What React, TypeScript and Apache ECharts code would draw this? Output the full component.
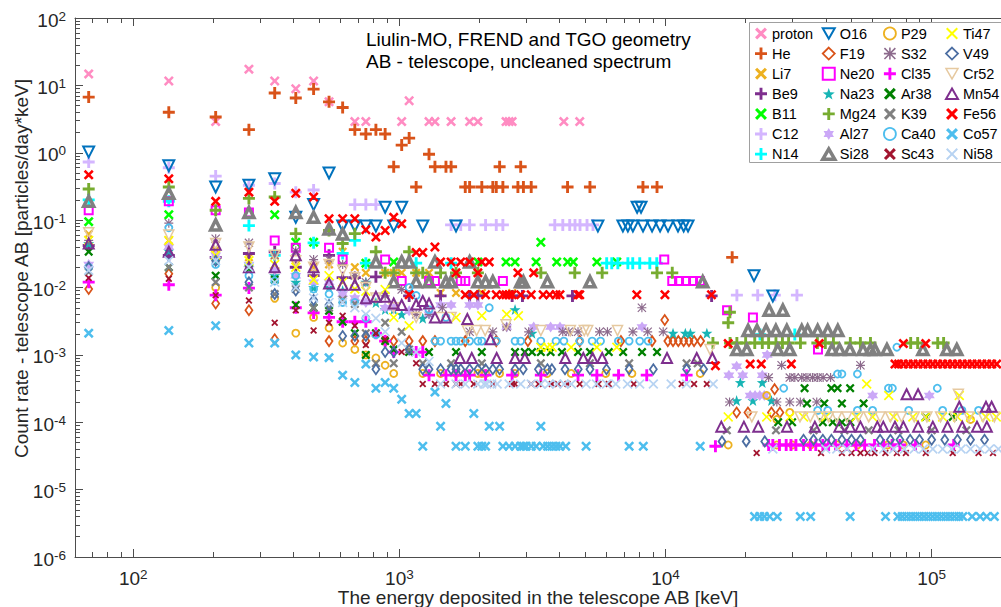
import React, { useEffect, useRef } from "react";
import * as echarts from "echarts";

// ---- species (legend order, column-major) ----
const speciesNames = [
  "proton", "He", "Li7", "Be9", "B11", "C12", "N14",
  "O16", "F19", "Ne20", "Na23", "Mg24", "Al27", "Si28",
  "P29", "S32", "Cl35", "Ar38", "K39", "Ca40", "Sc43",
  "Ti47", "V49", "Cr52", "Mn54", "Fe56", "Co57", "Ni58",
];

// ---- count rates: [deposited energy keV, rate particles/day/keV] ----
const proton = [[68,14.8],[136,11.6],[204,2.9],[272,17.4],[340,11.6],[408,8.9],[476,11.6],[544,5.7],[680,2.9],[748,2.9],[1020,2.9],[1088,5.9],[1292,2.9],[1360,2.9],[1564,2.9],[1836,2.9],[1972,2.9],[2516,2.9],[2584,2.9],[2652,2.9],[4148,2.9],[4760,2.9]];
const He = [[68,6.7],[136,4.0],[204,3.4],[272,2.2],[340,7.7],[408,6.5],[476,8.8],[544,5.7],[612,4.7],[680,2.2],[748,1.9],[816,2.2],[884,1.9],[952,0.62],[1020,1.3],[1088,1.65],[1156,0.31],[1292,0.95],[1360,0.62],[1496,0.62],[1564,0.62],[1768,0.31],[1836,0.31],[2040,0.31],[2244,0.31],[2312,0.31],[2380,0.62],[2448,0.31],[2788,0.31],[2856,0.62],[2924,0.31],[3128,0.31],[4284,0.31],[5200,0.31],[8225,0.31],[9290,0.31],[17800,0.028]];
const Li7 = [[68,0.062],[136,0.05],[204,0.036],[272,0.028],[340,0.03],[408,0.022],[476,0.02],[544,0.022],[612,0.034],[680,0.02],[748,0.0165],[884,0.0165],[952,0.0165],[1020,0.0165],[1156,0.0165],[1292,0.0165],[1428,0.0083],[1632,0.0083],[2040,0.0083],[2652,0.0083]];
const Be9 = [[68,0.042],[136,0.03],[204,0.028],[272,0.032],[340,0.034],[408,0.02],[476,0.015],[544,0.03],[612,0.014],[680,0.014],[816,0.0144],[1088,0.0075],[1428,0.0075],[1836,0.0075],[1972,0.0075],[2652,0.0075],[2900,0.0075],[4470,0.0075],[14900,0.0075]];
const B11 = [[68,0.095],[136,0.12],[340,0.12],[408,0.047],[476,0.047],[748,0.023],[952,0.024],[1972,0.024],[2516,0.024],[2720,0.024],[3264,0.024],[3400,0.047],[3900,0.024],[4290,0.024],[4500,0.024],[5520,0.024],[6560,0.024]];
const C12 = [[68,0.73],[136,0.6],[204,0.45],[272,0.33],[340,0.35],[408,0.26],[476,0.28],[680,0.17],[748,0.17],[816,0.17],[1564,0.085],[1700,0.085],[1836,0.085],[2108,0.085],[2312,0.085],[2448,0.085],[3836,0.085],[4111,0.085],[4365,0.085],[4569,0.085],[4771,0.085],[5070,0.085],[5340,0.085],[18540,0.0077],[22200,0.0077],[25750,0.0077],[31170,0.0077]];
const N14 = [[68,0.2],[136,0.19],[272,0.083],[340,0.03],[476,0.046],[612,0.032],[680,0.05],[748,0.023],[1156,0.023],[1564,0.023],[6010,0.023],[6280,0.023],[6620,0.023],[7220,0.023],[7530,0.023],[8000,0.023],[8730,0.023],[9270,0.023],[22650,0.002],[30600,0.002]];
const O16 = [[68,1.03],[136,0.64],[204,0.31],[272,0.33],[340,0.41],[408,0.11],[476,0.17],[544,0.5],[612,0.082],[680,0.082],[748,0.082],[816,0.082],[884,0.155],[952,0.082],[1020,0.155],[1224,0.082],[1632,0.082],[5570,0.082],[6915,0.082],[7220,0.082],[7540,0.082],[7820,0.155],[8090,0.155],[8230,0.082],[8900,0.082],[9540,0.082],[10220,0.082],[11140,0.082],[11700,0.082],[12150,0.082],[21500,0.015],[25300,0.0075]];
const F19 = [[68,0.0095],[136,0.016],[204,0.0058],[272,0.0046],[340,0.0017],[544,0.0016],[680,0.0016],[748,0.0016],[884,0.0016],[952,0.0016],[1088,0.0016],[1224,0.0016],[1360,0.0016],[1768,0.0016],[2312,0.0016],[3040,0.0016],[4760,0.0016],[6800,0.0016],[8900,0.0016],[9930,0.0033],[10200,0.0016],[10670,0.0016],[11170,0.0016],[11700,0.0016],[12240,0.0016],[12800,0.0016],[13550,0.0016],[18500,0.00014],[20400,0.00014],[25000,0.00014],[25700,0.00031],[26900,0.00014]];
const Ne20 = [[68,0.14],[136,0.19],[204,0.14],[272,0.13],[340,0.05],[408,0.039],[544,0.039],[612,0.026],[884,0.026],[1020,0.0125],[1292,0.0125],[1360,0.0125],[1700,0.0125],[1768,0.0125],[2448,0.0125],[9890,0.026],[10600,0.0125],[11240,0.0125],[11940,0.0125],[12690,0.0125],[13480,0.0125],[17030,0.0046],[21300,0.0036],[37400,0.0012]];
const Na23 = [[68,0.045],[136,0.035],[204,0.025],[272,0.02],[340,0.015],[408,0.012],[476,0.01],[544,0.01],[612,0.009],[748,0.012],[816,0.006],[884,0.0047],[952,0.0047],[1020,0.004],[1224,0.0035],[2720,0.0047],[3150,0.0021],[10670,0.0021],[11870,0.0021],[12400,0.0021],[14300,0.0021],[19100,0.00039],[23100,0.00039],[18500,0.00021],[21300,0.00021],[25000,0.00021]];
const Mg24 = [[68,0.29],[136,0.31],[204,0.14],[272,0.21],[340,0.22],[408,0.063],[544,0.07],[612,0.045],[680,0.063],[816,0.034],[884,0.0165],[952,0.0165],[1088,0.034],[1156,0.0165],[1224,0.0165],[1428,0.0165],[1632,0.0165],[1972,0.0165],[3400,0.0165],[4560,0.0165],[5780,0.0165],[9290,0.0165],[10600,0.0165],[17200,0.003],[17450,0.0043],[15070,0.0015],[17480,0.0015],[18540,0.0015],[20000,0.0015],[21640,0.0015],[23100,0.0015],[24400,0.0015],[25990,0.0015],[27500,0.0015],[29000,0.0015],[32130,0.0015],[37200,0.0015],[39850,0.0015],[42750,0.0015],[49470,0.0015],[53970,0.0015],[58900,0.0015],[83400,0.0015],[88600,0.0015],[105400,0.0015],[110900,0.0015]];
const Al27 = [[68,0.022],[136,0.04],[204,0.03],[272,0.022],[340,0.018],[408,0.015],[476,0.012],[544,0.012],[612,0.008],[680,0.007],[748,0.006],[884,0.005],[952,0.005],[1088,0.0045],[1292,0.004],[1428,0.0055],[1564,0.0055],[1836,0.0055],[1972,0.0055],[2530,0.0026],[3196,0.0026],[3700,0.0026],[4012,0.0026],[8160,0.0026],[18500,0.00068],[17300,0.0005],[19500,0.0005],[23100,0.0005],[24100,0.001],[20800,0.00025],[21700,0.00025],[22600,0.00025],[23500,0.00025],[60000,0.00025],[98000,0.00025]];
const Si28 = [[68,0.19],[136,0.25],[204,0.085],[272,0.13],[408,0.13],[476,0.11],[544,0.074],[612,0.062],[816,0.024],[952,0.0122],[1020,0.024],[1088,0.024],[1156,0.0122],[1292,0.0122],[1360,0.024],[1496,0.0122],[1564,0.0122],[1836,0.024],[1972,0.0122],[2108,0.0122],[2244,0.0122],[2856,0.0122],[2924,0.0122],[3600,0.0122],[5200,0.0122],[13800,0.0122],[24500,0.0046],[27600,0.0046],[20430,0.0023],[22070,0.0023],[23870,0.0023],[25980,0.0023],[28560,0.0023],[32500,0.0023],[34200,0.0023],[37300,0.0023],[40700,0.0023],[44400,0.0023],[18530,0.0012],[20200,0.0012],[26400,0.0012],[29300,0.0012],[42200,0.0012],[45100,0.0012],[49300,0.0012],[55200,0.0012],[58900,0.0012],[61200,0.0012],[67900,0.0012],[92700,0.0012],[114000,0.0012],[124300,0.0012]];
const P29 = [[204,0.01],[340,0.0069],[408,0.0021],[476,0.0036],[544,0.0025],[612,0.0015],[680,0.0012],[748,0.001],[816,0.0009],[884,0.0007],[952,0.00053],[1224,0.00053],[1428,0.00053],[1632,0.00053],[1768,0.00053],[1972,0.00053],[2040,0.00053],[2110,0.00053],[2380,0.00053],[2720,0.00053],[3590,0.00053],[4420,0.00053],[5960,0.00053],[7480,0.00053],[13500,0.00053],[24000,0.00025],[29300,0.00014],[26200,0.00011],[17200,0.000046],[26200,0.000046],[30000,0.000046],[35100,0.000046],[44300,0.000046],[52600,0.000046],[68300,0.000046],[78300,0.000046],[95000,0.000046],[140000,0.00011]];
const S32 = [[68,0.05],[136,0.09],[204,0.053],[272,0.046],[340,0.03],[408,0.035],[476,0.026],[544,0.026],[612,0.022],[680,0.015],[748,0.012],[884,0.0075],[1020,0.0093],[1156,0.004],[1292,0.004],[1450,0.005],[1836,0.0022],[2244,0.0022],[2530,0.0026],[3060,0.0022],[4110,0.0022],[4330,0.0022],[4690,0.0022],[5650,0.0022],[6050,0.0022],[7540,0.0022],[8150,0.005],[8570,0.0022],[9800,0.0022],[27300,0.0007],[54000,0.0007],[24400,0.00046],[29300,0.00046],[30600,0.00046],[32500,0.00046],[34000,0.00046],[35700,0.00046],[37300,0.00046],[39100,0.00046],[41700,0.00046],[17400,0.0002],[26200,0.0002],[29300,0.0002],[32100,0.0002],[37000,0.0002]];
const Cl35 = [[68,0.012],[136,0.011],[204,0.0077],[272,0.0098],[408,0.005],[476,0.0042],[544,0.0036],[612,0.0031],[680,0.0031],[748,0.0031],[816,0.0021],[884,0.0016],[952,0.0011],[1156,0.0011],[1224,0.0011],[1292,0.0005],[1496,0.0005],[1632,0.0005],[1768,0.0005],[1836,0.0005],[2108,0.0005],[2652,0.0005],[3400,0.0005],[4690,0.0005],[5520,0.0005],[6660,0.0005],[8500,0.0005],[12000,0.0005],[15400,0.000044],[24400,0.000046],[25300,0.000046],[26800,0.000046],[28400,0.000046],[29600,0.000046],[30900,0.000046],[33000,0.000046],[35000,0.000046],[36700,0.000046],[39000,0.000046],[41000,0.000046],[43500,0.000046],[48000,0.000046],[52000,0.000046],[56000,0.000046],[61000,0.000046],[66000,0.000046],[71000,0.000046],[76000,0.000046],[87000,0.000046],[121000,0.000046]];
const Ar38 = [[68,0.034],[136,0.02],[204,0.015],[272,0.019],[340,0.013],[408,0.0055],[476,0.005],[544,0.0045],[612,0.0031],[680,0.0021],[748,0.001],[816,0.0021],[884,0.0016],[952,0.0012],[1088,0.0011],[1292,0.0011],[1632,0.0011],[2040,0.0011],[2720,0.0011],[2960,0.0011],[3150,0.0011],[3400,0.0011],[3700,0.0011],[4080,0.0011],[4690,0.0011],[5200,0.0011],[6120,0.0011],[6930,0.0011],[8160,0.0011],[9290,0.0011],[33300,0.00032],[42000,0.00032],[44300,0.00032],[49400,0.00032],[34000,0.00019],[39500,0.00019],[46000,0.00019],[55500,0.00019],[26500,0.0001],[29900,0.0001],[39000,0.0001],[42500,0.0001],[46000,0.0001],[49500,0.0001],[95000,0.00012],[120000,0.00012]];
const K39 = [[68,0.017],[136,0.02],[204,0.012],[272,0.01],[340,0.008],[408,0.0095],[476,0.005],[544,0.005],[612,0.0066],[680,0.0057],[748,0.0021],[816,0.00075],[884,0.003],[952,0.00075],[1020,0.0022],[1088,0.0012],[1224,0.00075],[1564,0.00075],[2040,0.00075],[3400,0.00075],[5200,0.00075],[7300,0.00075],[12000,0.00075],[13200,0.00075],[17000,0.000076],[26000,0.000076],[36000,0.000076],[47000,0.000076],[58000,0.000076],[75000,0.000076],[100000,0.000076],[135000,0.000076]];
const Ca40 = [[68,0.02],[136,0.077],[204,0.022],[272,0.015],[340,0.0125],[408,0.015],[476,0.0095],[544,0.008],[612,0.006],[680,0.006],[748,0.0035],[816,0.002],[1088,0.01],[1156,0.0076],[1292,0.0047],[1360,0.0016],[1428,0.0016],[1496,0.0036],[1564,0.0016],[1632,0.0016],[1700,0.0016],[1836,0.0016],[1972,0.0016],[2040,0.0016],[2176,0.005],[2312,0.0016],[2720,0.0016],[2856,0.0016],[3400,0.0016],[3876,0.0016],[4150,0.0016],[4760,0.0016],[5300,0.0016],[5700,0.0016],[6650,0.0016],[7300,0.0016],[8000,0.0016],[8600,0.0016],[44300,0.00052],[46000,0.00052],[52600,0.00052],[74000,0.0013],[27800,0.00032],[68800,0.00032],[71200,0.00032],[105000,0.00032],[37300,0.00015],[40700,0.00015],[52600,0.00015],[60000,0.00015],[82000,0.00015],[110000,0.00015],[130000,0.00015],[150000,0.00015]];
const Sc43 = [[68,0.0138],[136,0.0135],[204,0.0077],[272,0.0064],[340,0.003],[408,0.0046],[476,0.0023],[544,0.003],[612,0.0038],[680,0.0027],[748,0.0014],[816,0.0021],[884,0.0017],[1020,0.0011],[1156,0.00075],[1224,0.00037],[1360,0.00037],[1496,0.00037],[1632,0.00037],[1700,0.00037],[1904,0.00037],[2244,0.00037],[2652,0.00037],[2720,0.00037],[3128,0.00037],[3332,0.00037],[3740,0.00037],[3944,0.00037],[4284,0.00037],[4760,0.00037],[5600,0.00037],[6120,0.00037],[7600,0.00037],[11500,0.00037],[12800,0.00037],[14300,0.00037],[22000,0.000035],[38400,0.000035],[46000,0.000035],[50000,0.000035],[54000,0.000035],[57500,0.000035],[61000,0.000035],[67000,0.000035],[74000,0.000035],[80000,0.000035],[95000,0.000035],[120000,0.000035],[150000,0.000035],[170000,0.000035]];
const Ti47 = [[68,0.05],[136,0.05],[204,0.03],[272,0.025],[340,0.022],[408,0.02],[476,0.013],[544,0.015],[612,0.012],[680,0.0095],[748,0.0088],[884,0.0093],[952,0.0036],[1088,0.0027],[1632,0.0036],[2040,0.0038],[2530,0.004],[2800,0.0038],[3400,0.0013],[3600,0.0013],[3750,0.0013],[4420,0.0013],[5520,0.0013],[6560,0.0013],[17200,0.00012],[24000,0.00012],[29300,0.00012],[57000,0.00037],[69000,0.00025],[127000,0.00025],[33000,0.00012],[40000,0.00012],[52000,0.00012],[60000,0.00012],[72000,0.00012],[85000,0.00012],[95000,0.00012],[110000,0.00012],[125000,0.00012],[140000,0.00012],[160000,0.00012],[175000,0.00012]];
const V49 = [[68,0.02],[136,0.03],[204,0.025],[272,0.012],[340,0.008],[408,0.009],[476,0.0065],[544,0.0055],[612,0.0019],[680,0.0019],[748,0.0019],[816,0.00061],[884,0.0011],[952,0.0011],[1088,0.0012],[1224,0.00061],[1292,0.00061],[1428,0.00061],[1564,0.00061],[1632,0.00061],[1700,0.00061],[1836,0.00061],[1972,0.00061],[2108,0.00061],[2244,0.00061],[2380,0.00061],[2720,0.00061],[2920,0.00061],[3330,0.00061],[3600,0.00061],[3740,0.00061],[4190,0.00061],[4700,0.00061],[5200,0.00061],[6000,0.00061],[7300,0.00061],[9000,0.00061],[12000,0.00061],[13900,0.00061],[16300,0.000052],[20100,0.000052],[23600,0.000052],[33000,0.000055],[36000,0.000055],[39000,0.000055],[42000,0.000055],[46000,0.000055],[50000,0.000055],[54000,0.000055],[64000,0.000055],[70000,0.000055],[76000,0.000055],[83000,0.000055],[90000,0.000055],[100000,0.000055],[112000,0.000055],[125000,0.000055],[140000,0.000055],[158000,0.000055]];
const Cr52 = [[68,0.065],[136,0.06],[204,0.045],[272,0.04],[340,0.03],[408,0.025],[476,0.02],[544,0.022],[612,0.018],[680,0.014],[748,0.01],[816,0.007],[952,0.005],[1156,0.0036],[1428,0.0036],[1564,0.0036],[1800,0.0023],[1950,0.0023],[2100,0.0023],[2516,0.0028],[3400,0.0023],[4390,0.0023],[4950,0.0023],[5100,0.0023],[6600,0.0023],[14700,0.0012],[21100,0.00012],[126000,0.00026],[32000,0.00012],[35000,0.00012],[38000,0.00012],[41000,0.00012],[44000,0.00012],[48000,0.00012],[53000,0.00012],[58000,0.00012],[64000,0.00012],[70000,0.00012],[77000,0.00012],[86000,0.00012],[96000,0.00012],[108000,0.00012],[122000,0.00012],[138000,0.00012],[156000,0.00012],[172000,0.00012]];
const Mn54 = [[68,0.045],[136,0.034],[204,0.043],[272,0.02],[340,0.02],[408,0.03],[476,0.02],[544,0.0115],[612,0.011],[680,0.011],[748,0.0069],[816,0.0073],[884,0.0073],[952,0.0058],[1020,0.0055],[1156,0.0056],[1224,0.0063],[1292,0.0058],[1360,0.0036],[1496,0.0036],[1800,0.0034],[2200,0.0017],[1690,0.0009],[1870,0.0009],[2320,0.0009],[2720,0.0009],[2960,0.0009],[4200,0.0009],[4910,0.0009],[5320,0.0009],[5780,0.0009],[10130,0.0009],[13100,0.0009],[15000,0.0009],[16200,0.000086],[19700,0.000086],[22300,0.000086],[28600,0.000086],[36400,0.000086],[45000,0.000086],[49400,0.000086],[54000,0.000086],[62500,0.000086],[65800,0.000086],[72800,0.000086],[78300,0.000086],[88900,0.000086],[101000,0.000086],[114700,0.000086],[130300,0.000086],[148000,0.000086],[161200,0.000086],[80500,0.00026],[88900,0.00026],[127000,0.00017],[160000,0.00017],[168000,0.00017]];
const Fe56 = [[68,0.47],[136,0.41],[204,0.19],[272,0.26],[340,0.19],[408,0.25],[476,0.22],[544,0.105],[612,0.105],[680,0.105],[748,0.072],[816,0.056],[884,0.07],[952,0.11],[1020,0.088],[1088,0.0078],[1156,0.033],[1224,0.033],[1360,0.04],[1428,0.024],[1564,0.024],[1632,0.0165],[1700,0.024],[1768,0.0078],[1836,0.024],[1904,0.0078],[1972,0.0165],[2040,0.024],[2108,0.0078],[2176,0.024],[2312,0.0078],[2448,0.0078],[2516,0.0078],[2584,0.0078],[2652,0.0078],[2788,0.0165],[2856,0.0078],[3128,0.0078],[3196,0.0165],[3468,0.0078],[3672,0.0078],[3876,0.0078],[4012,0.0078],[4692,0.0078],[4760,0.0078],[7800,0.0078],[9950,0.0078],[14880,0.0078],[15400,0.00069],[17200,0.00147],[20800,0.00073],[22900,0.00073],[29700,0.00073],[37800,0.00147],[78300,0.00147],[95000,0.00147],[72800,0.00073],[75100,0.00073],[78300,0.00073],[81700,0.00073],[85200,0.00073],[88900,0.00073],[92800,0.00073],[96800,0.00073],[101000,0.00073],[105400,0.00073],[110000,0.00073],[114700,0.00073],[119700,0.00073],[124900,0.00073],[130300,0.00073],[136000,0.00073],[141900,0.00073],[148000,0.00073],[154500,0.00073],[161200,0.00073],[168200,0.00073],[175500,0.00073]];
const Co57 = [[68,0.0021],[136,0.0023],[204,0.0027],[272,0.0015],[340,0.0015],[408,0.001],[476,0.00093],[544,0.00091],[612,0.0005],[680,0.00039],[748,0.00073],[816,0.00032],[884,0.00039],[952,0.00032],[1020,0.00022],[1088,0.000135],[1156,0.000135],[1224,0.000044],[1360,0.00028],[1428,0.000087],[1496,0.00019],[1632,0.000044],[1768,0.000044],[1904,0.000135],[1972,0.000044],[2040,0.000044],[2108,0.000044],[2176,0.000087],[2380,0.000087],[2448,0.000044],[2584,0.000044],[2720,0.000044],[2856,0.000044],[2924,0.000044],[2992,0.000044],[3128,0.000044],[3264,0.000044],[3400,0.000087],[3468,0.000044],[3604,0.000044],[3740,0.000044],[3876,0.000044],[4012,0.000044],[4216,0.000044],[5030,0.000044],[7300,0.000044],[8250,0.000044],[13500,0.000044],[21600,0.000004],[22600,0.000004],[23500,0.000004],[24600,0.000004],[26300,0.000004],[32100,0.000004],[35100,0.000004],[49400,0.000004],[67100,0.000004],[74700,0.000004],[77500,0.000004],[80500,0.000004],[83600,0.000004],[86800,0.000004],[90100,0.000004],[93600,0.000004],[97200,0.000004],[100900,0.000004],[104800,0.000004],[108800,0.000004],[113000,0.000004],[117300,0.000004],[121800,0.000004],[126500,0.000004],[131000,0.000004],[141900,0.000004],[152000,0.000004],[161000,0.000004],[172000,0.000004]];
const Ni58 = [[68,0.018],[136,0.025],[204,0.025],[272,0.02],[340,0.012],[408,0.01],[476,0.007],[544,0.006],[612,0.006],[680,0.005],[748,0.004],[816,0.0035],[884,0.0022],[1020,0.0015],[1156,0.0011],[1292,0.0008],[1428,0.00037],[1632,0.00037],[1768,0.00037],[1970,0.00037],[2080,0.00037],[2130,0.00037],[2220,0.00037],[2330,0.00037],[2584,0.00037],[2856,0.00037],[3128,0.00037],[3400,0.00037],[3650,0.00037],[3900,0.00037],[4160,0.00037],[4430,0.00037],[5030,0.00037],[5500,0.00037],[6000,0.00037],[6500,0.00037],[7200,0.00037],[8000,0.00037],[9000,0.00037],[10500,0.00037],[12000,0.00037],[15100,0.00037],[25300,0.00004],[40000,0.00004],[44000,0.00004],[48000,0.00004],[60000,0.00004],[66000,0.00004],[72000,0.00004],[79000,0.00004],[86000,0.00004],[93000,0.00004],[101000,0.00004],[110000,0.00004],[119000,0.00004],[129000,0.00004],[140000,0.00004],[152000,0.00004],[165000,0.00004],[178000,0.00004]];

const seriesData: Record<string, number[][]> = {
  proton, He, Li7, Be9, B11, C12, N14, O16, F19, Ne20, Na23, Mg24, Al27, Si28,
  P29, S32, Cl35, Ar38, K39, Ca40, Sc43, Ti47, V49, Cr52, Mn54, Fe56, Co57, Ni58,
};

// ---- axis limits and tick labels ----
const X_MIN = 60.4;
const X_MAX = 182200;
const Y_MIN = 1e-6;
const Y_MAX = 100;
const xMajorTicks = [1e2, 1e3, 1e4, 1e5];
const yMajorTicks = [1e-6, 1e-5, 1e-4, 1e-3, 1e-2, 1e-1, 1, 1e1, 1e2];

const titleLines = ["Liulin-MO, FREND and TGO geometry", "AB - telescope, uncleaned spectrum"];
const xTitle = "The energy deposited in the telescope AB [keV]";
const yTitle = "Count rate - telescope AB [particles/day*keV]";

// ---- marker glyphs ----
const SYM_X = "path://M0,1.8L1.8,0L5,3.2L8.2,0L10,1.8L6.8,5L10,8.2L8.2,10L5,6.8L1.8,10L0,8.2L3.2,5Z";
const SYM_X_THIN = "path://M0,1.2L1.2,0L5,3.8L8.8,0L10,1.2L6.2,5L10,8.8L8.8,10L5,6.2L1.2,10L0,8.8L3.8,5Z";
const SYM_PLUS = "path://M3.8,0H6.2V3.8H10V6.2H6.2V10H3.8V6.2H0V3.8H3.8Z";
const SYM_ASTER = "path://M4.35,0H5.65V10H4.35Z M0,4.35H10V5.65H0Z M0.9,0L10,9.1L9.1,10L0,0.9Z M9.1,0L10,0.9L0.9,10L0,9.1Z";
const SYM_PENTA = "path://M5,0.3L6.18,3.68L9.76,3.76L6.9,5.92L7.94,9.35L5,7.3L2.06,9.35L3.1,5.92L0.24,3.76L3.82,3.68Z";
const SYM_HEXA = "path://M5,0L6.45,2.49L9.33,2.5L7.9,5L9.33,7.5L6.45,7.51L5,10L3.55,7.51L0.67,7.5L2.1,5L0.67,2.5L3.55,2.49Z";
const SYM_TRI_UP = "path://M5,0L10,8.66L0,8.66Z";
const SYM_TRI_DOWN = "path://M0,0L10,0L5,8.66Z";

type Marker = { color: string; symbol: string; size: number | number[]; open?: number };
const markers: Record<string, Marker> = {
  proton: { color: "#ff8cc2", symbol: SYM_X, size: 10 },
  He: { color: "#d95319", symbol: SYM_PLUS, size: 12 },
  Li7: { color: "#edb120", symbol: SYM_X, size: 9 },
  Be9: { color: "#7e2f8e", symbol: SYM_PLUS, size: 12 },
  B11: { color: "#00ff00", symbol: SYM_X, size: 10 },
  C12: { color: "#d4b6ff", symbol: SYM_PLUS, size: 12 },
  N14: { color: "#00ffff", symbol: SYM_PLUS, size: 12 },
  O16: { color: "#0072bd", symbol: SYM_TRI_DOWN, size: 11, open: 2 },
  F19: { color: "#d95319", symbol: "diamond", size: [7, 10], open: 1.8 },
  Ne20: { color: "#ff00ff", symbol: "rect", size: 8, open: 2 },
  Na23: { color: "#17b5b5", symbol: SYM_PENTA, size: 11 },
  Mg24: { color: "#77ac30", symbol: SYM_PLUS, size: 12 },
  Al27: { color: "#cba8f7", symbol: SYM_HEXA, size: 11 },
  Si28: { color: "#808080", symbol: SYM_TRI_UP, size: 10, open: 3.5 },
  P29: { color: "#edb120", symbol: "circle", size: 7, open: 1.8 },
  S32: { color: "#8c6a8c", symbol: SYM_ASTER, size: 9 },
  Cl35: { color: "#ff00ff", symbol: SYM_PLUS, size: 12 },
  Ar38: { color: "#008000", symbol: SYM_X, size: 9 },
  K39: { color: "#808080", symbol: SYM_X, size: 9 },
  Ca40: { color: "#4dbeee", symbol: "circle", size: 7, open: 1.8 },
  Sc43: { color: "#a2142f", symbol: SYM_X, size: 7 },
  Ti47: { color: "#ffff00", symbol: SYM_X_THIN, size: 10 },
  V49: { color: "#4c6ea2", symbol: "diamond", size: [7, 10], open: 1.8 },
  Cr52: { color: "#e6c9a0", symbol: SYM_TRI_DOWN, size: 10, open: 1.5 },
  Mn54: { color: "#7e2f8e", symbol: SYM_TRI_UP, size: 10, open: 2 },
  Fe56: { color: "#ff0000", symbol: SYM_X, size: 10 },
  Co57: { color: "#4dbeee", symbol: SYM_X, size: 10 },
  Ni58: { color: "#b7d3f2", symbol: SYM_X_THIN, size: 10 },
};

const FONT = "'Liberation Sans', Arial, Helvetica, sans-serif";
const AXIS_COLOR = "#4d4d4d";
const TEXT_COLOR = "#262626";

function itemStyleFor(m: Marker) {
  return m.open
    ? { color: "rgba(0,0,0,0)", borderColor: m.color, borderWidth: m.open, opacity: 1 }
    : { color: m.color, borderWidth: 0, opacity: 1 };
}

// minor ticks of a log axis: 2..9 x 10^n inside the range
function logMinorTicks(lo: number, hi: number) {
  const out: number[] = [];
  for (let e = Math.floor(Math.log10(lo)); e <= Math.ceil(Math.log10(hi)); e++) {
    for (let k = 2; k <= 9; k++) {
      const v = k * Math.pow(10, e);
      if (v > lo && v < hi) out.push(v);
    }
  }
  return out;
}

const powerLabel = (v: number) => `{b|10}{s|${Math.round(Math.log10(v))}}`;
const labelRich = {
  b: { fontSize: 19, fontFamily: FONT, color: TEXT_COLOR, lineHeight: 18, padding: [4, 0, 0, 0] },
  s: { fontSize: 13.5, fontFamily: FONT, color: TEXT_COLOR, lineHeight: 12, verticalAlign: "top" },
};

function buildOption() {
  const xMinor = logMinorTicks(X_MIN, X_MAX);
  const yMinor = logMinorTicks(Y_MIN, Y_MAX);
  const lineStyle = { color: AXIS_COLOR, width: 1 };

  const xBase = { type: "log", min: X_MIN, max: X_MAX, logBase: 10, splitLine: { show: false }, minorTick: { show: false }, minorSplitLine: { show: false } };
  const yBase = { type: "log", min: Y_MIN, max: Y_MAX, logBase: 10, splitLine: { show: false }, minorTick: { show: false }, minorSplitLine: { show: false } };

  const xAxis = [
    {
      ...xBase, position: "bottom",
      axisLine: { show: true, lineStyle },
      axisTick: { show: true, inside: true, length: 8, customValues: xMajorTicks, lineStyle },
      axisLabel: { show: true, customValues: xMajorTicks, formatter: powerLabel, rich: labelRich, margin: 10 },
      name: xTitle, nameLocation: "middle", nameGap: 32, nameMoveOverlap: false,
      nameTextStyle: { fontSize: 19, fontFamily: FONT, color: TEXT_COLOR, lineHeight: 16 },
    },
    {
      ...xBase, position: "bottom",
      axisLine: { show: false },
      axisTick: { show: true, inside: true, length: 5, customValues: xMinor, lineStyle },
      axisLabel: { show: false },
    },
    {
      ...xBase, position: "top",
      axisLine: { show: true, lineStyle },
      axisTick: { show: true, inside: true, length: 8, customValues: xMajorTicks, lineStyle },
      axisLabel: { show: false },
    },
    {
      ...xBase, position: "top",
      axisLine: { show: false },
      axisTick: { show: true, inside: true, length: 5, customValues: xMinor, lineStyle },
      axisLabel: { show: false },
    },
  ];

  const yAxis = [
    {
      ...yBase, position: "left",
      axisLine: { show: true, lineStyle },
      axisTick: { show: true, inside: true, length: 8, customValues: yMajorTicks, lineStyle },
      axisLabel: { show: true, customValues: yMajorTicks, formatter: powerLabel, rich: labelRich, margin: 9 },
      name: yTitle, nameLocation: "middle", nameGap: 44, nameRotate: 90, nameMoveOverlap: false,
      nameTextStyle: { fontSize: 19, fontFamily: FONT, color: TEXT_COLOR, padding: [0, 0, 0, 38] },
    },
    {
      ...yBase, position: "left",
      axisLine: { show: false },
      axisTick: { show: true, inside: true, length: 5, customValues: yMinor, lineStyle },
      axisLabel: { show: false },
    },
  ];

  const series = speciesNames.map((name) => {
    const m = markers[name];
    return {
      name,
      type: "scatter",
      xAxisIndex: 0,
      yAxisIndex: 0,
      data: seriesData[name],
      symbol: m.symbol,
      symbolSize: m.size,
      symbolKeepAspect: false,
      itemStyle: itemStyleFor(m),
      silent: true,
      emphasis: { disabled: true },
    };
  });

  const colLefts = [755, 821, 883, 945];
  const legend = colLefts.map((left, c) => ({
    show: true,
    orient: "vertical",
    left,
    top: 26,
    padding: 0,
    itemGap: 5.1,
    itemWidth: 12,
    itemHeight: 12,
    selectedMode: false,
    textStyle: { fontSize: 14.5, fontFamily: FONT, color: "#000", lineHeight: 14.5 },
    data: speciesNames.slice(c * 7, c * 7 + 7).map((name) => ({
      name,
      icon: markers[name].symbol,
      itemStyle: itemStyleFor(markers[name]),
    })),
  }));

  return {
    animation: false,
    backgroundColor: "#ffffff",
    grid: { left: 75, top: 18, right: 0, bottom: 50, containLabel: false, outerBoundsMode: "none" },
    title: {
      text: titleLines.join("\n"),
      left: 366,
      top: 28.5,
      padding: 0,
      textStyle: { fontSize: 19, fontWeight: "normal", fontFamily: FONT, color: "#000", lineHeight: 22 },
    },
    legend,
    graphic: [
      {
        type: "rect",
        z: 3,
        shape: { x: 749.5, y: 22.5, width: 270, height: 140 },
        style: { fill: "#ffffff", stroke: "#a0a0a0", lineWidth: 1 },
        silent: true,
      },
    ],
    xAxis,
    yAxis,
    series,
  };
}

export default function App() {
  const ref = useRef<HTMLDivElement>(null);
  useEffect(() => {
    if (!ref.current) return;
    const chart = echarts.init(ref.current, undefined, { renderer: "svg" });
    chart.setOption(buildOption() as any);
    return () => chart.dispose();
  }, []);
  return (
    <div
      ref={ref}
      style={{ position: "fixed", left: 0, top: 0, width: 1001, height: 607, background: "#fff" }}
    />
  );
}
